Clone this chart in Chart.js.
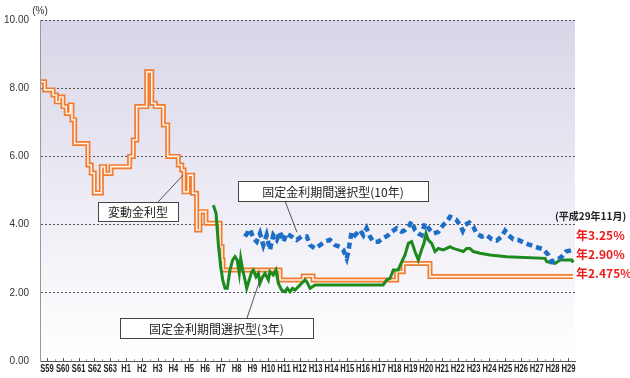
<!DOCTYPE html>
<html>
<head>
<meta charset="utf-8">
<script src="https://cdn.jsdelivr.net/npm/chart.js@4.4.1/dist/chart.umd.min.js"></script>
<style>
body{margin:0;background:#fff;}
#wrap{width:630px;height:378px;}
</style>
</head>
<body>
<div id="wrap"><canvas id="rateChart" width="630" height="378"></canvas></div>
<script>

// X AXIS LABELS (S59 = 1984 ... H29 = 2017)

const firstYear = 1984;
const yearLabels = [
  "S59","S60","S61","S62","S63",
  "H1","H2","H3","H4","H5","H6","H7","H8","H9","H10",
  "H11","H12","H13","H14","H15","H16","H17","H18","H19","H20",
  "H21","H22","H23","H24","H25","H26","H27","H28","H29"
];

const yTicks = [0, 2, 4, 6, 8, 10];

// 変動金利型 (step data: year the rate changed, new rate)

const varYears = [
  1983.64, 1983.85, 1984.38, 1984.59, 1984.80, 1985.01, 1985.22, 1985.47,
  1985.58, 1985.75, 1986.59, 1986.80, 1986.99, 1987.44, 1987.65, 1988.05,
  1989.23, 1989.46, 1989.68, 1990.31, 1990.63, 1990.85, 1991.36, 1991.64,
  1992.31, 1992.53, 1992.67, 1992.94, 1993.22, 1993.47, 1993.68, 1994.06,
  1994.95, 1995.08, 1995.14, 1998.75, 2000.22, 2000.84, 2006.13, 2006.55,
  2008.24, 2017.29
];
const varRates = [
  8.19, 7.95, 7.80, 7.60, 7.74, 7.46, 7.26, 7.51,
  7.07, 6.38, 5.75, 5.51, 4.93, 5.70, 5.50, 5.70,
  6.00, 6.48, 7.46, 8.48, 7.56, 7.46, 6.92, 6.00,
  5.75, 5.60, 4.96, 5.45, 4.92, 3.84, 4.38, 4.04,
  3.35, 2.96, 2.67, 2.375, 2.49, 2.375, 2.62, 2.86,
  2.475, 2.475
];

// 固定金利期間選択型(3年)

const fix3Years = [
  1994.53, 1994.70, 1994.84, 1994.99, 1995.12, 1995.27, 1995.41, 1995.58,
  1995.75, 1995.90, 1996.04, 1996.17, 1996.26, 1996.39, 1996.53, 1996.64,
  1996.80, 1996.96, 1997.06, 1997.23, 1997.38, 1997.48, 1997.65, 1997.80,
  1998.01, 1998.11, 1998.32, 1998.49, 1998.64, 1998.85, 1999.06, 1999.21,
  1999.38, 1999.55, 1999.70, 1999.91, 2000.12, 2000.33, 2000.44, 2000.65,
  2000.96, 2005.28, 2005.50, 2005.71, 2005.92, 2006.23, 2006.45, 2006.66,
  2006.87, 2007.08, 2007.29, 2007.50, 2007.71, 2007.86, 2007.99, 2008.13,
  2008.35, 2008.56, 2008.77, 2009.08, 2009.51, 2009.72, 2010.03, 2010.35,
  2010.56, 2010.77, 2010.98, 2011.41, 2012.04, 2013.09, 2015.52, 2015.63,
  2016.15, 2016.47, 2017.21, 2017.31
];
const fix3Rates = [
  4.57, 4.33, 3.45, 2.77, 2.38, 2.13, 2.13, 2.67,
  2.96, 3.06, 2.96, 2.57, 3.01, 2.67, 2.38, 2.13,
  2.38, 2.62, 2.67, 2.47, 2.57, 2.28, 2.47, 2.57,
  2.38, 2.62, 2.52, 2.67, 2.28, 2.08, 2.03, 2.13,
  2.03, 2.13, 2.08, 2.18, 2.28, 2.38, 2.33, 2.13,
  2.23, 2.23, 2.38, 2.42, 2.67, 2.67, 2.91, 3.11,
  3.45, 3.50, 3.21, 2.96, 3.26, 3.45, 3.74, 3.55,
  3.45, 3.21, 3.30, 3.26, 3.35, 3.30, 3.26, 3.21,
  3.30, 3.30, 3.21, 3.16, 3.11, 3.06, 3.01, 2.91,
  2.86, 2.96, 2.96, 2.89
];

// 固定金利期間選択型(10年)

const fix10Years = [
  1996.53, 1996.85, 1997.06, 1997.27, 1997.48, 1997.69, 1997.90, 1998.11,
  1998.32, 1998.54, 1998.75, 1998.96, 1999.17, 1999.49, 1999.80, 2000.12,
  2000.44, 2000.65, 2000.96, 2001.28, 2001.59, 2001.91, 2002.23, 2002.54,
  2002.75, 2002.97, 2003.07, 2003.28, 2003.49, 2003.81, 2004.02, 2004.23,
  2004.44, 2004.65, 2004.97, 2005.28, 2005.60, 2005.82, 2006.13, 2006.45,
  2006.66, 2006.87, 2007.08, 2007.29, 2007.50, 2007.71, 2007.92, 2008.24,
  2008.45, 2008.77, 2009.08, 2009.30, 2009.51, 2009.89, 2010.14, 2010.31,
  2010.46, 2010.73, 2010.98, 2011.19, 2011.51, 2011.83, 2012.15, 2012.46,
  2012.78, 2012.99, 2013.20, 2013.51, 2013.83, 2014.15, 2014.46, 2014.78,
  2015.10, 2015.41, 2015.73, 2015.94, 2016.26, 2016.58, 2016.85, 2017.21
];
const fix10Rates = [
  3.65, 3.86, 3.60, 3.50, 3.74, 3.40, 3.69, 3.26,
  3.69, 3.55, 3.79, 3.50, 3.74, 3.65, 3.55, 3.65,
  3.65, 3.40, 3.30, 3.40, 3.50, 3.55, 3.40, 3.35,
  3.26, 3.01, 3.21, 3.79, 3.69, 3.84, 3.69, 3.89,
  3.65, 3.50, 3.50, 3.60, 3.69, 3.79, 3.89, 3.79,
  3.84, 3.94, 4.09, 3.84, 3.74, 3.69, 4.04, 3.84,
  3.74, 3.79, 3.99, 4.09, 4.23, 4.15, 3.99, 3.82,
  3.99, 4.06, 3.94, 3.74, 3.65, 3.69, 3.57, 3.53,
  3.65, 3.82, 3.69, 3.57, 3.55, 3.48, 3.42, 3.37,
  3.32, 3.28, 3.11, 2.91, 2.96, 3.06, 3.21, 3.25
];

function toPoints(xs, ys){
  return xs.map((x, i) => ({x: x, y: ys[i]}));
}

// BACKGROUND

const plotBackground = {
  id: "plotBackground",
  beforeDraw(chart){
    const {ctx, chartArea: a} = chart;
    const g = ctx.createLinearGradient(0, a.top, 0, a.bottom);
    g.addColorStop(0, "#d9d5e8");
    g.addColorStop(0.8, "#f8f7fb");
    g.addColorStop(1, "#ffffff");
    ctx.save();
    ctx.fillStyle = g;
    ctx.fillRect(a.left, a.top, a.right - a.left, a.bottom - a.top);
    ctx.restore();
  }
};

// X AXIS: small ticks inside the plot + condensed year labels

const yearAxis = {
  id: "yearAxis",
  afterDatasetsDraw(chart){
    const {ctx, chartArea: a, scales: {x}} = chart;
    ctx.save();
    ctx.lineWidth = 1;
    yearLabels.forEach((l, i) => {
      const px = Math.round(x.getPixelForValue(firstYear + i)) + 0.5;
      ctx.strokeStyle = "#555";
      ctx.beginPath(); ctx.moveTo(px, a.bottom); ctx.lineTo(px, a.bottom - 3); ctx.stroke();
      const hx = Math.round(x.getPixelForValue(firstYear + i + 0.5)) + 0.5;
      if(hx < a.right){
        ctx.strokeStyle = "#aaa";
        ctx.beginPath(); ctx.moveTo(hx, a.bottom); ctx.lineTo(hx, a.bottom - 2); ctx.stroke();
      }
    });
    ctx.restore();
  },
  afterDraw(chart){
    const {ctx, chartArea: a, scales: {x}} = chart;
    ctx.save();
    ctx.fillStyle = "#222";
    ctx.font = 'bold 10px "Liberation Sans"';
    ctx.textAlign = "center";
    ctx.textBaseline = "middle";
    yearLabels.forEach((l, i) => {
      const px = x.getPixelForValue(firstYear + i);
      ctx.save();
      ctx.translate(px, a.bottom + 8);
      ctx.scale(0.76, 1);
      ctx.fillText(l, 0, 0);
      ctx.restore();
    });
    ctx.restore();
  }
};

// LABEL BOXES AND TEXTS

function labelBox(ctx, x, y, w, h, text){
  ctx.fillStyle = "#fff";
  ctx.fillRect(x, y, w, h);
  ctx.strokeStyle = "#444";
  ctx.lineWidth = 1;
  ctx.strokeRect(x + 0.5, y + 0.5, w, h);
  ctx.fillStyle = "#222";
  ctx.font = '12px "Noto Sans CJK JP"';
  ctx.textAlign = "center";
  ctx.textBaseline = "middle";
  ctx.fillText(text, x + w / 2, y + h / 2 + 1);
}

function leader(ctx, chart, x0, y0, year, rate){
  const {x, y} = chart.scales;
  ctx.strokeStyle = "#555";
  ctx.lineWidth = 1;
  ctx.beginPath();
  ctx.moveTo(x0, y0);
  ctx.lineTo(x.getPixelForValue(year), y.getPixelForValue(rate));
  ctx.stroke();
}

const annotations = {
  id: "annotations",
  afterDraw(chart){
    const ctx = chart.ctx;
    ctx.save();

    leader(ctx, chart, 158, 202, 1992.61, 5.45);
    labelBox(ctx, 98, 202, 80, 19, "変動金利型");

    leader(ctx, chart, 285, 201, 1999.82, 3.78);
    labelBox(ctx, 238, 181, 190, 20, "固定金利期間選択型(10年)");

    leader(ctx, chart, 247, 318, 1997.48, 2.38);
    labelBox(ctx, 120, 318, 193, 20, "固定金利期間選択型(3年)");

    // (%)
    ctx.fillStyle = "#333";
    ctx.font = '10px "Liberation Sans"';
    ctx.textAlign = "center";
    ctx.textBaseline = "middle";
    ctx.fillText("(%)", 40, 11);

    ctx.textAlign = "left";
    ctx.fillStyle = "#222";
    ctx.font = 'bold 10px "Noto Sans CJK JP"';
    ctx.fillText("(平成29年11月)", 555, 216);

    ctx.fillStyle = "#ee1c1c";
    ctx.font = 'bold 12px "Noto Sans CJK JP"';
    ctx.fillText("年3.25%", 576, 235);
    ctx.fillText("年2.90%", 576, 254);
    ctx.fillText("年2.475%", 576, 273);

    ctx.restore();
  }
};

// CHART

new Chart(document.getElementById("rateChart"), {
  type: "line",
  data: {
    datasets: [
      {
        label: "固定金利期間選択型(10年)",
        data: toPoints(fix10Years, fix10Rates),
        borderColor: "#1f6ec6",
        borderWidth: 4.5,
        borderDash: [6, 4],
        pointRadius: 0,
        order: 1
      },
      {
        label: "固定金利期間選択型(3年)",
        data: toPoints(fix3Years, fix3Rates),
        borderColor: "#1c8a1c",
        borderWidth: 3,
        pointRadius: 0,
        order: 2
      },
      {
        label: "変動金利型",
        data: toPoints(varYears, varRates),
        borderColor: "#fff2e8",
        borderWidth: 1.6,
        stepped: true,
        pointRadius: 0,
        order: 4
      },
      {
        label: "変動金利型 outline",
        data: toPoints(varYears, varRates),
        borderColor: "#f27b2e",
        borderWidth: 5,
        stepped: true,
        pointRadius: 0,
        order: 5
      }
    ]
  },
  options: {
    responsive: false,
    animation: false,
    layout: {padding: {top: 20, right: 55, left: 0, bottom: 0}},
    plugins: {legend: {display: false}, tooltip: {enabled: false}},
    scales: {
      x: {
        type: "linear",
        min: 1983.557,
        max: 2017.418,
        afterFit(scale){ scale.height = 17; },
        afterBuildTicks(scale){
          scale.ticks = yearLabels.map((l, i) => ({value: firstYear + i}));
        },
        grid: {display: false, drawTicks: false},
        border: {display: true, color: "#555", width: 1},
        ticks: {display: false}
      },
      y: {
        min: 0,
        max: 10,
        afterFit(scale){ scale.width = 40; },
        afterBuildTicks(scale){
          scale.ticks = yTicks.map(v => ({value: v}));
        },
        grid: {
          drawTicks: false,
          color: c => c.tick && c.tick.value === 0 ? "rgba(0,0,0,0)" : "#555",
          lineWidth: 1
        },
        border: {display: true, color: "#999", width: 1, dash: [2, 2]},
        ticks: {
          padding: 11,
          color: "#333",
          font: {family: "'Liberation Sans', sans-serif", size: 10},
          callback: v => v.toFixed(2)
        }
      }
    }
  },
  plugins: [plotBackground, yearAxis, annotations]
});

</script>
</body>
</html>
